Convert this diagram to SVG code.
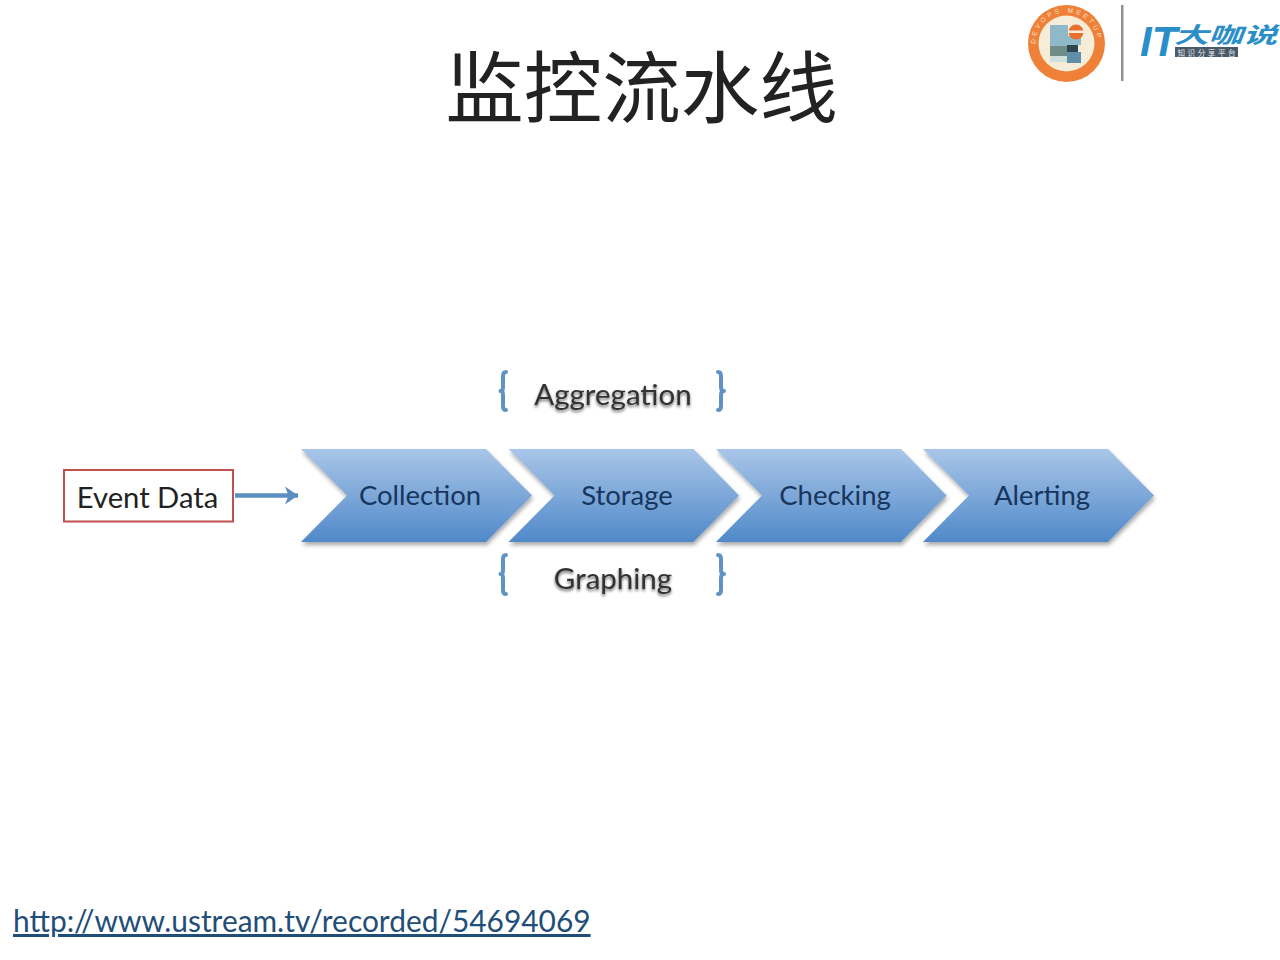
<svg xmlns="http://www.w3.org/2000/svg" width="1280" height="960" viewBox="0 0 1280 960">
<style>
.l{font-family:Lato,"Open Sans",sans-serif;font-size:27.500px;text-anchor:middle;fill:#17365d}
.g{font-family:Lato,"Open Sans",sans-serif;font-size:29.500px;text-anchor:middle;fill:#333}
.b{fill:none;stroke:#5f93c6;stroke-width:4;stroke-linecap:round;stroke-linejoin:round}
.c{fill:url(#cg);filter:url(#sh)}
</style>
<defs>
<linearGradient id="cg" x1="0" y1="0" x2="0" y2="1"><stop offset="0" stop-color="#a9c6e8"/><stop offset="1" stop-color="#5089c9"/></linearGradient>
<filter id="sh" x="-10%" y="-10%" width="120%" height="125%"><feGaussianBlur in="SourceAlpha" stdDeviation="2"/><feOffset dx="1" dy="3"/><feComponentTransfer><feFuncA type="linear" slope=".35"/></feComponentTransfer><feMerge><feMergeNode/><feMergeNode in="SourceGraphic"/></feMerge></filter>
<filter id="ts" x="-10%" y="-20%" width="120%" height="150%"><feGaussianBlur in="SourceAlpha" stdDeviation="1.600"/><feOffset dx="0" dy="2"/><feComponentTransfer><feFuncA type="linear" slope=".6"/></feComponentTransfer><feMerge><feMergeNode/><feMergeNode in="SourceGraphic"/></feMerge></filter>
<marker id="ah" markerUnits="userSpaceOnUse" markerWidth="20" markerHeight="20" refX="19" refY="10" orient="auto"><path d="M6 1 L19 10 L6 19 L9.500 10Z" fill="#5b8fc0"/></marker>
<path id="arcText" d="M1036.200 50 A31 31 0 1 1 1096.800 50"/>
</defs>
<rect width="1280" height="960" fill="#fff"/>

<text id="title" x="641.500" y="117" font-family="'Noto Sans CJK SC',sans-serif" font-size="78.500" font-weight="400" text-anchor="middle" fill="#222">监控流水线</text>

<g id="logo">
<circle cx="1066.500" cy="43.500" r="38.500" fill="#ee8037"/>
<circle cx="1066.500" cy="43.500" r="28" fill="#f6ecd8"/>
<text font-family="'Liberation Sans',sans-serif" font-size="6.500" letter-spacing="3" fill="#fbe3cf"><textPath href="#arcText" startOffset="6">DEVOPS MEETUP</textPath></text>
<rect x="1050" y="25" width="18" height="21" fill="#8fb8c9"/>
<rect x="1050" y="46" width="17" height="10" fill="#6f8d86"/>
<rect x="1050" y="56" width="17" height="6" fill="#cfe0dc"/>
<rect x="1067" y="36" width="14" height="9" fill="#8fb8c9"/>
<rect x="1067" y="45" width="11" height="7" fill="#2f4650"/>
<rect x="1067" y="52" width="14" height="11" fill="#5f8ea8"/>
<circle cx="1076" cy="32" r="7.500" fill="#e96f2e"/>
<rect x="1068" y="30.500" width="16" height="2.500" fill="#f6ecd8"/>
<rect x="1121" y="5" width="2.500" height="76" fill="#8f9493"/>
<text x="1140" y="56" font-family="'Liberation Sans',sans-serif" font-size="42" font-style="italic" font-weight="700" fill="#2a8fc9">IT</text>
<text x="1174" y="43" font-family="'Noto Sans CJK SC',sans-serif" font-size="22" font-weight="700" font-style="italic" fill="#2a8fc9" textLength="103" lengthAdjust="spacingAndGlyphs">大咖说</text>
<rect x="1175" y="47" width="63" height="10" fill="#4a5a68"/>
<text x="1206.500" y="55.500" font-family="'Noto Sans CJK SC',sans-serif" font-size="7.500" text-anchor="middle" fill="#e6ecef" textLength="58" lengthAdjust="spacing">知识分享平台</text>
</g>

<g id="connectors">
<path d="M235 495.500 H298" fill="none" stroke="#5b8fc0" stroke-width="4.500" marker-end="url(#ah)"/>
</g>

<g id="event-data">
<rect x="64" y="470" width="169" height="51.500" fill="#fff" stroke="#c0504d" stroke-width="2"/>
<text x="147.500" y="508" font-family="Lato,'Open Sans',sans-serif" font-size="29.200" text-anchor="middle" fill="#222">Event Data</text>
</g>
<g id="collection">
<path class="c" d="M301 449 H486 L532 495.500 L486 542 H301 L347 495.500Z"/>
<text class="l" x="420" y="505">Collection</text>
</g>
<g id="storage">
<path class="c" d="M508.500 449 H693.500 L739 495.500 L693.500 542 H508.500 L554.500 495.500Z"/>
<text class="l" x="627" y="505">Storage</text>
</g>
<g id="checking">
<path class="c" d="M716 449 H901 L946.500 495.500 L901 542 H716 L762 495.500Z"/>
<text class="l" x="835" y="505">Checking</text>
</g>
<g id="alerting">
<path class="c" d="M923 449 H1108 L1154 495.500 L1108 542 H923 L969 495.500Z"/>
<text class="l" x="1042" y="505">Alerting</text>
</g>

<g id="aggregation">
<path class="b" d="M506 372 Q503 372 503 376 V387 Q503 391 500.500 391 Q503 391 503 395 V406 Q503 410 506 410"/>
<path class="b" d="M718 372 Q721 372 721 376 V387 Q721 391 724 391 Q721 391 721 395 V406 Q721 410 718 410"/>
<text class="g" x="613" y="405" filter="url(#ts)">Aggregation</text>
</g>
<g id="graphing">
<path class="b" d="M506 555 Q503 555 503 559 V570 Q503 574 500.500 574 Q503 574 503 578 V590 Q503 594 506 594"/>
<path class="b" d="M718 555 Q721 555 721 559 V570 Q721 574 724 574 Q721 574 721 578 V590 Q721 594 718 594"/>
<text class="g" x="613" y="589" filter="url(#ts)">Graphing</text>
</g>

<g id="link">
<text x="13" y="932" font-family="Lato,'Open Sans',sans-serif" font-size="29.900" fill="#1f4e79" text-decoration="underline">http://www.ustream.tv/recorded/54694069</text>
</g>
</svg>
